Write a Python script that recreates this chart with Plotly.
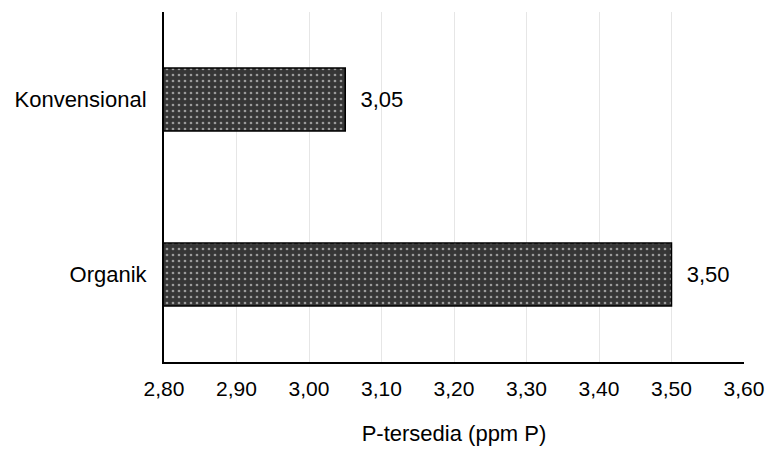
import plotly.graph_objects as go

categories = ["Organik", "Konvensional"]
values = [3.50, 3.05]
tick_vals = [2.8, 2.9, 3.0, 3.1, 3.2, 3.3, 3.4, 3.5, 3.6]

FONT = "Liberation Sans, Arial, sans-serif"

fig = go.Figure()
fig.add_trace(go.Bar(
    y=categories, x=values, orientation="h",
    width=0.36,
    marker=dict(
        color="#363636",
        line=dict(color="#000000", width=1.5),
        pattern=dict(shape=".", fgcolor="#ffffff", bgcolor="#363636", size=6, solidity=0.16),
    ),
    texttemplate="  %{x:.2f}", textposition="outside",
    textfont=dict(family=FONT, size=22, color="#000000"),
    cliponaxis=False,
))

fig.update_layout(
    width=767, height=449,
    margin=dict(l=164, r=23, t=12, b=87),
    paper_bgcolor="white", plot_bgcolor="white",
    separators=",.",
    showlegend=False,
    font=dict(family=FONT, size=22, color="#000000"),
)
fig.update_xaxes(
    range=[2.8, 3.6], tickvals=tick_vals, tickformat=".2f",
    showgrid=True, gridcolor="#e6e6e6", gridwidth=1,
    showline=True, linecolor="#000000", linewidth=2,
    ticks="", zeroline=False, ticklabelstandoff=7, automargin=False,
    title=dict(text="P-tersedia (ppm P)", standoff=26, font=dict(size=22)),
    tickfont=dict(size=21),
)
fig.update_yaxes(
    showline=True, linecolor="#000000", linewidth=2,
    ticks="", showgrid=False, ticklabelstandoff=11, automargin=False,
    tickfont=dict(size=22),
)

fig.write_html("out.html")
